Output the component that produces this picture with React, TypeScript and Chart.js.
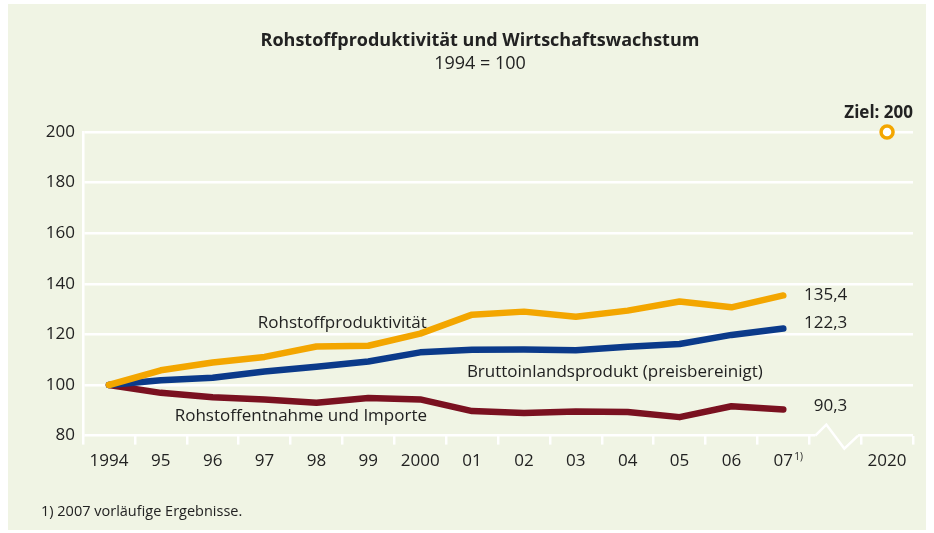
import React, { useEffect, useRef } from "react";
import { Chart, registerables } from "chart.js";

Chart.register(...registerables);

const categories = ["1994", "95", "96", "97", "98", "99", "2000", "01", "02", "03", "04", "05", "06", "07", "", "2020"];
const productivity = [100, 105.8, 108.9, 111.1, 115.2, 115.5, 120.3, 127.8, 129, 127, 129.4, 133, 130.7, 135.4, null, null];
const gdp = [100, 101.9, 102.9, 105.3, 107.2, 109.3, 112.9, 113.9, 114, 113.7, 115.1, 116.2, 119.8, 122.3, null, null];
const extraction = [100, 96.9, 95.2, 94.3, 93, 94.9, 94.3, 89.7, 88.9, 89.5, 89.3, 87.3, 91.6, 90.3, null, null];
const target = [null, null, null, null, null, null, null, null, null, null, null, null, null, null, null, 200];
const yTicks = [80, 100, 120, 140, 160, 180, 200];

const BG = "#f0f4e4";
const ORANGE = "#f3a600";
const BLUE = "#0b3a8a";
const RED = "#7a1120";
const TEXT = "#222222";
const FONT = "'Open Sans', sans-serif";

const overlay = {
  id: "overlay",
  afterDraw(chart: any) {
    const ctx = chart.ctx;
    const x = chart.scales.x;
    const y = chart.scales.y;
    const area = chart.chartArea;
    ctx.save();
    // title
    ctx.fillStyle = TEXT;
    ctx.textAlign = "center";
    ctx.textBaseline = "middle";
    ctx.font = `bold 18px ${FONT}`;
    ctx.fillText("Rohstoffproduktivität und Wirtschaftswachstum", 472, 37);
    ctx.font = `18px ${FONT}`;
    ctx.fillText("1994 = 100", 472, 60);

    // axis break
    const xa = x.getPixelForValue(13) + 32;
    const xb = x.getPixelForValue(15) - 29;
    const yb = area.bottom;
    ctx.fillStyle = BG;
    ctx.fillRect(xa, yb - 3, xb - xa, 6);
    ctx.strokeStyle = "#ffffff";
    ctx.lineWidth = 2.5;
    ctx.lineJoin = "miter";
    ctx.beginPath();
    ctx.moveTo(xa, yb);
    ctx.lineTo(xa + 11, yb - 11);
    ctx.lineTo(xa + 29, yb + 13);
    ctx.lineTo(xb, yb);
    ctx.stroke();

    // end values
    ctx.fillStyle = TEXT;
    ctx.font = `17px ${FONT}`;
    ctx.textAlign = "right";
    const ex = x.getPixelForValue(13) + 64;
    ctx.fillText("135,4", ex, y.getPixelForValue(productivity[13]));
    ctx.fillText("122,3", ex, y.getPixelForValue(gdp[13]) - 5);
    ctx.fillText("90,3", ex, y.getPixelForValue(extraction[13]) - 3);

    // series labels
    ctx.font = `17px ${FONT}`;
    ctx.textAlign = "center";
    ctx.fillText("Rohstoffproduktivität", x.getPixelForValue(4.5), y.getPixelForValue(124.6));
    ctx.fillText("Rohstoffentnahme und Importe", x.getPixelForValue(3.7), y.getPixelForValue(87.7));
    ctx.textAlign = "left";
    ctx.fillText("Bruttoinlandsprodukt (preisbereinigt)", x.getPixelForValue(6.9), y.getPixelForValue(105.2));

    // target label
    ctx.font = `bold 17px ${FONT}`;
    ctx.textAlign = "right";
    ctx.fillText("Ziel: 200", area.right, y.getPixelForValue(200) - 19);

    // footnote marker on 07
    ctx.font = `10px ${FONT}`;
    ctx.textAlign = "left";
    ctx.fillText("1)", x.getPixelForValue(13) + 11, area.bottom + 22);

    // footnote
    ctx.font = `14.5px ${FONT}`;
    ctx.fillText("1) 2007 vorläufige Ergebnisse.", 33, 508);
    ctx.restore();
  },
};

export default function App() {
  const ref = useRef<HTMLCanvasElement | null>(null);
  useEffect(() => {
    if (!ref.current) return;
    const chart = new Chart(ref.current, {
      type: "line",
      data: {
        labels: categories,
        datasets: [
          { label: "Rohstoffproduktivität", data: productivity, borderColor: ORANGE },
          { label: "Bruttoinlandsprodukt", data: gdp, borderColor: BLUE },
          { label: "Rohstoffentnahme und Importe", data: extraction, borderColor: RED },
          {
            label: "Ziel",
            data: target,
            borderColor: ORANGE,
            backgroundColor: "#ffffff",
            showLine: false,
            pointRadius: 6,
            pointBorderWidth: 3.5,
          },
        ].map((d: any) => ({
          borderWidth: 6.5,
          borderCapStyle: "round",
          borderJoinStyle: "round",
          pointRadius: 0,
          tension: 0,
          spanGaps: false,
          clip: false,
          ...d,
        })),
      },
      options: {
        animation: false,
        responsive: false,
        maintainAspectRatio: false,
        layout: { padding: { top: 128, right: 13, bottom: 53, left: 0 } },
        plugins: { legend: { display: false }, tooltip: { enabled: false }, title: { display: false } },
        scales: {
          x: {
            type: "category",
            offset: true,
            grid: {
              offset: true,
              drawOnChartArea: false,
              drawTicks: true,
              tickLength: 9,
              color: "#ffffff",
              lineWidth: 2.5,
            },
            border: { display: false },
            ticks: { color: TEXT, font: { family: FONT, size: 17 }, padding: 6, maxRotation: 0, autoSkip: false },
          },
          y: {
            min: 80,
            max: 200,
            afterFit: (s: any) => {
              s.width = 75;
            },
            afterBuildTicks: (s: any) => {
              s.ticks = yTicks.map((v) => ({ value: v }));
            },
            grid: { color: "#ffffff", lineWidth: 2.5, drawTicks: false },
            border: { display: true, color: "#ffffff", width: 2.5 },
            ticks: { color: TEXT, font: { family: FONT, size: 17 }, padding: 8 },
          },
        },
      },
      plugins: [overlay],
    } as any);
    return () => chart.destroy();
  }, []);
  return (
    <div style={{ position: "absolute", left: 8, top: 4, width: 918, height: 526, background: BG }}>
      <canvas ref={ref} width={918} height={526} style={{ display: "block" }} />
    </div>
  );
}
